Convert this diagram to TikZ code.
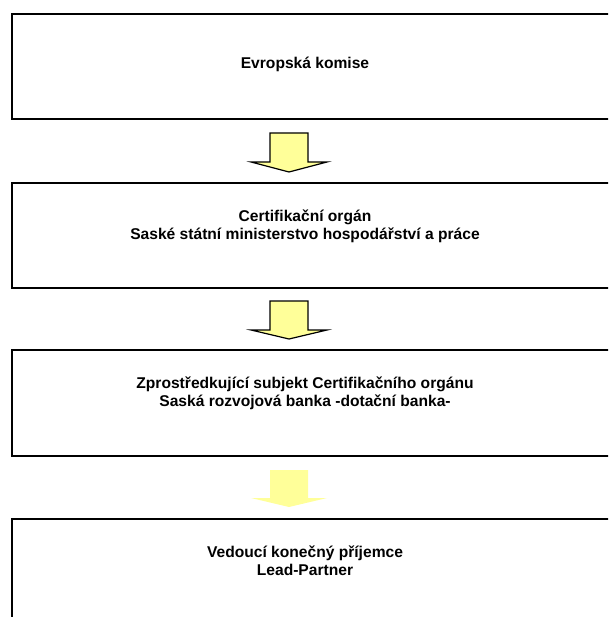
\documentclass[tikz,border=0pt]{standalone}
\usepackage{fontspec}
\setmainfont{Liberation Sans}
\usepackage{tikz}
\usetikzlibrary{calc, positioning}
\definecolor{arrowyellow}{HTML}{FFFF99}
\tikzset{
  box/.style={draw, line width=1.6pt, minimum width=620pt, inner sep=0pt, anchor=north west},
  boxtext/.style={font=\bfseries\fontsize{15.6}{18}\selectfont, align=center, inner sep=0pt},
  blockarrow/.style={fill=arrowyellow, draw=black, line width=1.2pt, line join=miter},
}

\begin{document}
\begin{tikzpicture}[x=1pt, y=-1pt]
	\useasboundingbox (0,0) rectangle (608,617);
	\clip (0,0) rectangle (608,617);
	% boxes
	\node[box, minimum height=105pt] (komise) at (11,13) {};
	\node[box, minimum height=105pt] (certorgan) at (11,182) {};
	\node[box, minimum height=106pt] (subjekt) at (11,349) {};
	\node[box, minimum height=120pt] (partner) at (11,518) {};
	% texts
	\node[boxtext] (t1) at (305,64) {Evropská komise};
	\node[boxtext] (t2) at (305,226) {Certifikační orgán\\Saské státní ministerstvo hospodářství a práce};
	\node[boxtext] (t3) at (305,393) {Zprostředkující subjekt Certifikačního orgánu\\Saská rozvojová banka -dotační banka-};
	\node[boxtext] (t4) at (305,561) {Vedoucí konečný příjemce\\Lead-Partner};
	% arrows
	\coordinate (a1) at (289,133);
	\coordinate (a2) at (289,301);
	\coordinate (a3) at (289,470);
	\draw[blockarrow] (a1) ++(-19,0) -- ++(38,0) -- ++(0,29) -- ++(19,0) -- ++(-38,10) -- ++(-38,-10) -- ++(19,0) -- cycle;
	\draw[blockarrow] (a2) ++(-19,0) -- ++(38,0) -- ++(0,29) -- ++(19,0) -- ++(-38,9) -- ++(-38,-9) -- ++(19,0) -- cycle;
	\fill[arrowyellow] (a3) ++(-19,0) -- ++(38,0) -- ++(0,28) -- ++(19,0) -- ++(-38,9) -- ++(-38,-9) -- ++(19,0) -- cycle;
\end{tikzpicture}
\end{document}
